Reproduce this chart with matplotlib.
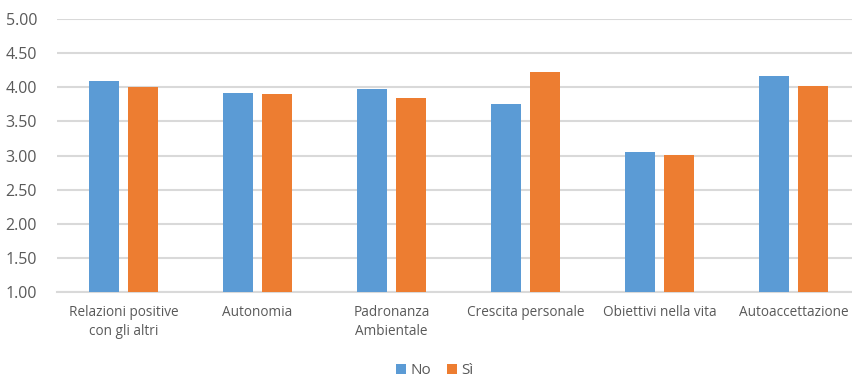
import matplotlib.pyplot as plt
import numpy as np

categories = ["Relazioni positive\ncon gli altri", "Autonomia", "Padronanza\nAmbientale",
              "Crescita personale", "Obiettivi nella vita", "Autoaccettazione"]
series_names = ["No", "Sì"]
values_no = [4.09, 3.92, 3.98, 3.76, 3.05, 4.17]
values_si = [4.00, 3.90, 3.84, 4.22, 3.01, 4.02]
y_ticks = [1.00, 1.50, 2.00, 2.50, 3.00, 3.50, 4.00, 4.50, 5.00]

blue = "#5B9BD5"
orange = "#ED7D31"
text_col = "#595959"
grid_col = "#D9D9D9"

plt.rcParams['font.family'] = ['Open Sans', 'DejaVu Sans']

W, H = 852, 378
fig = plt.figure(figsize=(W / 100, H / 100), dpi=100)
# plot area: left 56.5 px, width 804 px (extends past right edge), top 19, bottom 292
ax = fig.add_axes([56.5 / W, (H - 292) / H, 804 / W, (292 - 19) / H])

x = np.arange(len(categories))
bw = 0.224
off = 0.1437
ax.bar(x - off, np.array(values_no) - 1, bw, bottom=1, color=blue, label=series_names[0], zorder=3)
ax.bar(x + off, np.array(values_si) - 1, bw, bottom=1, color=orange, label=series_names[1], zorder=3)

ax.set_xlim(-0.5, len(categories) - 0.5)
ax.set_ylim(1, 5)
ax.set_yticks(y_ticks)
ax.set_yticklabels([f"{v:.2f}" for v in y_ticks])
ax.yaxis.grid(True, color=grid_col, linewidth=1.5, zorder=0)
ax.set_axisbelow(True)
for s in ["top", "right", "left"]:
    ax.spines[s].set_visible(False)
ax.spines["bottom"].set_color(grid_col)
ax.spines["bottom"].set_linewidth(1.5)
ax.tick_params(axis="y", length=0, pad=14, labelsize=11.5, labelcolor=text_col)
ax.tick_params(axis="x", length=0, pad=9, labelsize=9.8, labelcolor=text_col)
ax.set_xticks(x)
ax.set_xticklabels(categories, linespacing=1.4)

fig.legend(loc="center", bbox_to_anchor=(435 / W, 1 - 371 / H), ncol=2, frameon=False,
           fontsize=11, labelcolor=text_col, handlelength=0.65, handleheight=0.65,
           handletextpad=0.3, columnspacing=1.0)

fig.savefig("out.png", dpi=100)
